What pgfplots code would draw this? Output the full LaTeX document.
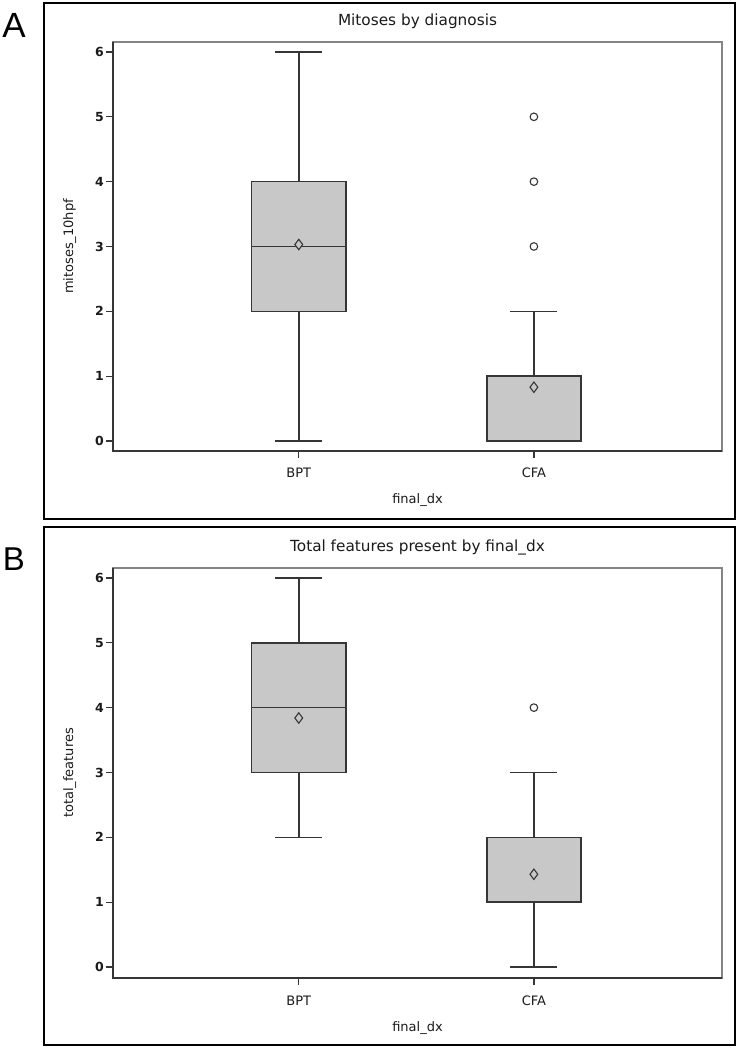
\documentclass[border=0pt]{standalone}
\usepackage{fontspec}
\setmainfont{DejaVu Sans}
\newfontfamily\letterfont{Liberation Sans}
\usepackage{pgfplots}
\pgfplotsset{compat=1.18}
\usepgfplotslibrary{statistics}
\definecolor{boxfill}{HTML}{C8C8C8}
\definecolor{edge}{HTML}{363636}
\definecolor{framegray}{HTML}{858585}
\definecolor{txt}{HTML}{1A1A1A}

\pgfplotsset{
  sasbox/.style={
    scale only axis, width=609pt, height=409pt,
    xmin=0.21, xmax=2.8, ymax=6.154,
    xtick={1,2}, xticklabels={BPT,CFA},
    ytick={0,1,2,3,4,5,6},
    tick align=outside, xtick pos=lower, ytick pos=left,
    major tick length=7pt,
    tick style={edge, line width=1.2pt},
    axis line style={framegray, line width=1.4pt},
    /pgf/number format/assume math mode=true,
    yticklabel style={font=\fontsize{12.5}{14}\selectfont\bfseries, text=txt, anchor=east, inner sep=0pt, xshift=-2pt},
    xticklabel style={font=\fontsize{13}{15}\selectfont, text=txt, anchor=base, inner sep=0pt, yshift=-20pt},
    title style={at={([yshift=10pt]axis description cs:0.5,1)}, anchor=base, inner sep=0pt, font=\fontsize{15.3}{18}\selectfont, text=txt},
    xlabel style={at={([yshift=-53pt]axis description cs:0.5,0)}, anchor=base, inner sep=0pt, font=\fontsize{13}{15}\selectfont, text=txt},
    ylabel style={at={([xshift=-40pt]axis description cs:0,0.5)}, anchor=base, inner sep=0pt, font=\fontsize{13}{15}\selectfont, text=txt},
    boxplot/box extend=0.4,
    boxplot/whisker extend=0.2,
    boxplot/draw direction=y,
    boxplot/every whisker/.style={draw=edge, line width=1.5pt},
    boxplot/every median/.style={draw=edge, line width=1.6pt},
    boxplot/every box/.style={draw=edge, fill=boxfill, line width=1.5pt},
    clip=false,
  },
  bx/.style={draw=edge, fill=boxfill, line width=1.5pt, solid},
  meanmark/.style={only marks, mark=diamond*, mark size=5.2pt, mark options={draw=edge, fill=boxfill, line width=1.1pt}},
  outl/.style={only marks, mark=o, mark size=3.8pt, mark options={draw=edge, line width=1.1pt}},
}

\begin{document}
\begin{tikzpicture}
\path[use as bounding box] (0pt,0pt) rectangle (737pt,1048pt);

% outer frames
\draw[line width=2.4pt, black] (44pt,1045pt) rectangle (735pt,529pt);
\draw[line width=2.4pt, black] (44pt,521pt) rectangle (735pt,3pt);
\node[anchor=base, inner sep=0pt] at (14pt,1010pt) {\letterfont\fontsize{35}{40}\selectfont A};
\node[anchor=base, inner sep=0pt] at (14pt,477pt) {\letterfont\fontsize{33}{40}\selectfont B};

% Panel A
\begin{axis}[sasbox, at={(113pt,597pt)}, anchor=south west, ymin=-0.154,
  title={Mitoses by diagnosis}, xlabel={final\_dx}, ylabel={mitoses\_10hpf}]
\addplot[bx, boxplot prepared={lower whisker=0, lower quartile=2, median=3,
  upper quartile=4, upper whisker=6, draw position=1}] coordinates {};
\addplot[bx, boxplot prepared={lower whisker=0, lower quartile=0, median=0,
  upper quartile=1, upper whisker=2, draw position=2}] coordinates {};
\addplot[meanmark] coordinates {(1,3.03) (2,0.83)};
\addplot[outl] coordinates {(2,3) (2,4) (2,5)};
\draw[edge, line width=1.9pt] (rel axis cs:0,1) -- (rel axis cs:0,0) -- (rel axis cs:1,0);
\end{axis}

% Panel B
\begin{axis}[sasbox, at={(113pt,70pt)}, anchor=south west, ymin=-0.17, height=410pt,
  title={Total features present by final\_dx}, xlabel={final\_dx}, ylabel={total\_features}]
\addplot[bx, boxplot prepared={lower whisker=2, lower quartile=3, median=4,
  upper quartile=5, upper whisker=6, draw position=1}] coordinates {};
\addplot[bx, boxplot prepared={lower whisker=0, lower quartile=1, median=1,
  upper quartile=2, upper whisker=3, draw position=2}] coordinates {};
\addplot[meanmark] coordinates {(1,3.84) (2,1.43)};
\addplot[outl] coordinates {(2,4)};
\draw[edge, line width=1.9pt] (rel axis cs:0,1) -- (rel axis cs:0,0) -- (rel axis cs:1,0);
\end{axis}
\end{tikzpicture}
\end{document}
